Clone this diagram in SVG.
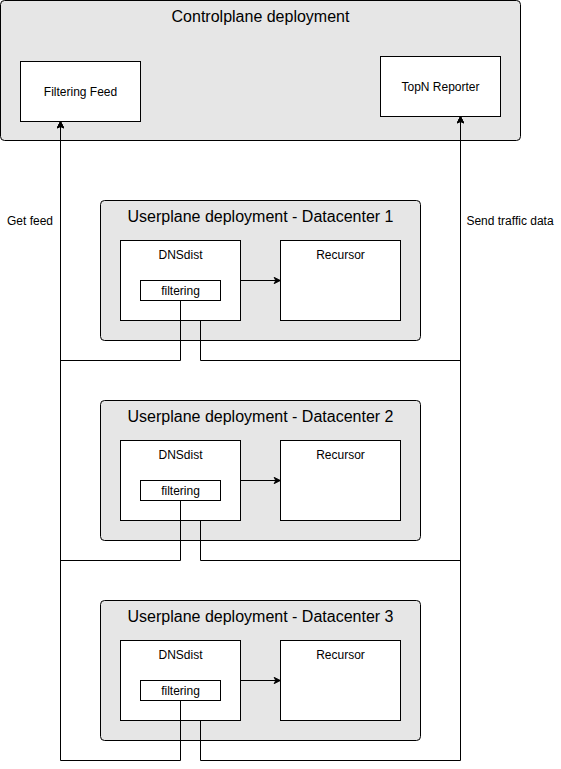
<svg xmlns="http://www.w3.org/2000/svg" width="561" height="769" viewBox="0 0 561 769">
<defs>
<style>
.grp{fill:#e6e6e6;stroke:#000;stroke-width:1}
.box{fill:#fff;stroke:#000;stroke-width:1}
.t16{font-family:"Liberation Sans",Arial,sans-serif;font-size:16px;fill:#000;text-anchor:middle}
.t12{font-family:"Liberation Sans",Arial,sans-serif;font-size:12px;fill:#000;text-anchor:middle}
.edge{fill:none;stroke:#000;stroke-width:1}
</style>
<marker id="arr" viewBox="0 0 10 10" refX="9" refY="5" markerWidth="8" markerHeight="8" markerUnits="userSpaceOnUse" orient="auto">
<path d="M1,1 L9,5 L1,9 L3,5 z" fill="#000" stroke="#000" stroke-width="1"/>
</marker>
</defs>
<rect width="561" height="769" fill="#fff"/>

<g id="controlplane">
<rect class="grp" x="0.5" y="0.5" width="520" height="140" rx="4"/>
<text class="t16" x="260.5" y="22">Controlplane deployment</text>
</g>
<g id="filtering-feed">
<rect class="box" x="20.5" y="61.5" width="120" height="60"/>
<text class="t12" x="80.5" y="96">Filtering Feed</text>
</g>
<g id="topn-reporter">
<rect class="box" x="380.5" y="56.5" width="120" height="60"/>
<text class="t12" x="440.5" y="91">TopN Reporter</text>
</g>

<g id="dc1">
<rect class="grp" x="100.5" y="200.5" width="320" height="140" rx="4"/>
<text class="t16" x="260.5" y="222">Userplane deployment - Datacenter 1</text>
</g>
<g id="dnsdist1">
<rect class="box" x="120.5" y="240.5" width="120" height="80"/>
<text class="t12" x="180.5" y="259">DNSdist</text>
</g>
<g id="filtering1">
<rect class="box" x="140.5" y="280.5" width="80" height="20"/>
<text class="t12" x="180.5" y="295">filtering</text>
</g>
<g id="recursor1">
<rect class="box" x="280.5" y="240.5" width="120" height="80"/>
<text class="t12" x="340.5" y="259">Recursor</text>
</g>

<g id="dc2">
<rect class="grp" x="100.5" y="400.5" width="320" height="140" rx="4"/>
<text class="t16" x="260.5" y="422">Userplane deployment - Datacenter 2</text>
</g>
<g id="dnsdist2">
<rect class="box" x="120.5" y="440.5" width="120" height="80"/>
<text class="t12" x="180.5" y="459">DNSdist</text>
</g>
<g id="filtering2">
<rect class="box" x="140.5" y="480.5" width="80" height="20"/>
<text class="t12" x="180.5" y="495">filtering</text>
</g>
<g id="recursor2">
<rect class="box" x="280.5" y="440.5" width="120" height="80"/>
<text class="t12" x="340.5" y="459">Recursor</text>
</g>

<g id="dc3">
<rect class="grp" x="100.5" y="600.5" width="320" height="140" rx="4"/>
<text class="t16" x="260.5" y="622">Userplane deployment - Datacenter 3</text>
</g>
<g id="dnsdist3">
<rect class="box" x="120.5" y="640.5" width="120" height="80"/>
<text class="t12" x="180.5" y="659">DNSdist</text>
</g>
<g id="filtering3">
<rect class="box" x="140.5" y="680.5" width="80" height="20"/>
<text class="t12" x="180.5" y="695">filtering</text>
</g>
<g id="recursor3">
<rect class="box" x="280.5" y="640.5" width="120" height="80"/>
<text class="t12" x="340.5" y="659">Recursor</text>
</g>

<g id="connectors">
<path class="edge" d="M240.5,280.5 L280.5,280.5" marker-end="url(#arr)"/>
<path class="edge" d="M240.5,480.5 L280.5,480.5" marker-end="url(#arr)"/>
<path class="edge" d="M240.5,680.5 L280.5,680.5" marker-end="url(#arr)"/>
<path class="edge" d="M180.5,300.5 V360.5 H60.5 V121.5" marker-end="url(#arr)"/>
<path class="edge" d="M180.5,500.5 V560.5 H60.5 V121.5" marker-end="url(#arr)"/>
<path class="edge" d="M180.5,700.5 V760.5 H60.5 V121.5" marker-end="url(#arr)"/>
<path class="edge" d="M200.5,320.5 V360.5 H460.5 V116.5" marker-end="url(#arr)"/>
<path class="edge" d="M200.5,520.5 V560.5 H460.5 V116.5" marker-end="url(#arr)"/>
<path class="edge" d="M200.5,720.5 V760.5 H460.5 V116.5" marker-end="url(#arr)"/>
<text class="t12" x="30" y="225">Get feed</text>
<text class="t12" x="510" y="225">Send traffic data</text>
</g>
</svg>
